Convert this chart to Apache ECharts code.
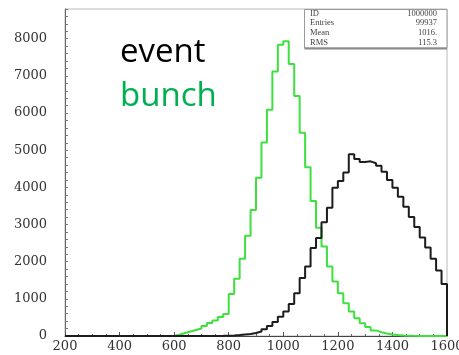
<!DOCTYPE html>
<html>
<head>
<meta charset="utf-8">
<script src="https://cdn.jsdelivr.net/npm/echarts@6/dist/echarts.min.js"></script>
<style>
  html, body { margin: 0; padding: 0; background: #fff; }
  #chart { width: 459px; height: 355px; }
</style>
</head>
<body>
<div id="chart"></div>
<script>
// Histogram binning: 70 bins of width 20 between 200 and 1600
const BIN_MIN = 200;
const BIN_WIDTH = 20;
const BIN_COUNT = 70;

// "event" counts per bin (black)
const eventCounts = [
  0, 0, 0, 0, 0, 0, 0, 0, 0, 0,
  0, 0, 0, 0, 0, 0, 0, 0, 0, 0,
  0, 0, 0, 0, 0, 0, 0, 2, 4, 8,
  15, 25, 40, 55, 80, 120, 180, 270, 380, 520,
  660, 860, 1150, 1560, 1870, 2370, 2640, 3060, 3450, 3990,
  4170, 4400, 4890, 4760, 4680, 4700, 4650, 4580, 4420, 4200,
  3990, 3750, 3480, 3200, 2930, 2650, 2380, 2080, 1760, 1400
];

// "bunch" counts per bin (green)
const bunchCounts = [
  0, 0, 0, 0, 0, 0, 0, 0, 0, 0,
  0, 0, 0, 0, 0, 0, 0, 0, 0, 5,
  35, 80, 120, 160, 200, 270, 350, 420, 510, 590,
  1130, 1540, 2080, 2700, 3390, 4260, 5210, 6090, 7120, 7840,
  7930, 7320, 6460, 5470, 4540, 3630, 2910, 2410, 1870, 1470,
  1150, 880, 660, 480, 340, 240, 150, 100, 65, 40,
  25, 15, 10, 5, 3, 0, 0, 0, 0, 0
];

// Statistics box rows
const statLabels = ['ID', 'Entries', 'Mean', 'RMS'];
const statValues = ['1000000', '99937', '1016.', '115.3'];

// Legend words
const seriesNames = ['event', 'bunch'];

// Turn bin counts into step-line points (left edge of each bin, closed at both ends)
function histPoints(counts) {
  const pts = [[BIN_MIN, 0]];
  for (let i = 0; i < BIN_COUNT; i++) {
    pts.push([BIN_MIN + i * BIN_WIDTH, counts[i]]);
  }
  const xEnd = BIN_MIN + BIN_COUNT * BIN_WIDTH;
  pts.push([xEnd, counts[BIN_COUNT - 1]]);
  pts.push([xEnd, 0]);
  return pts;
}

const serif = 'DejaVu Serif';
const chart = echarts.init(document.getElementById('chart'), null, { renderer: 'canvas' });

const statGraphics = [];
statGraphics.push({
  type: 'rect', z: 10,
  shape: { x: 304.5, y: 9.5, width: 142.5, height: 38.5 },
  style: { fill: '#fff', stroke: '#9a9a9a', lineWidth: 1 }
});
statGraphics.push({
  type: 'line', z: 11,
  shape: { x1: 304.5, y1: 48.5, x2: 447, y2: 48.5 },
  style: { stroke: '#8a8a8a', lineWidth: 2 }
});
statLabels.forEach((lab, i) => {
  const cy = 13.5 + i * 9.7;
  statGraphics.push({
    type: 'text', z: 12, x: 310, y: cy,
    style: { text: lab, fill: '#444', font: '8.5px "Liberation Serif"', verticalAlign: 'middle', align: 'left' }
  });
  statGraphics.push({
    type: 'text', z: 12, x: 437, y: cy,
    style: { text: statValues[i], fill: '#444', font: '8.5px "Liberation Serif"', verticalAlign: 'middle', align: 'right' }
  });
});

const option = {
  animation: false,
  backgroundColor: '#fff',
  grid: {
    left: 65, right: 12, top: 9, bottom: 19,
    outerBoundsMode: 'none', containLabel: false,
    show: true, borderColor: '#b8b8b8', borderWidth: 1, backgroundColor: 'transparent'
  },
  xAxis: {
    type: 'value', min: 200, max: 1600, interval: 200,
    axisLine: { show: true, onZero: false, lineStyle: { color: '#444', width: 1 } },
    axisTick: { show: true, inside: true, length: 4, lineStyle: { color: '#555' } },
    minorTick: { show: true, splitNumber: 4, length: 2, lineStyle: { color: '#666' } },
    axisLabel: { fontFamily: serif, fontSize: 13, color: '#333', margin: 4, formatter: v => String(v) },
    splitLine: { show: false }, minorSplitLine: { show: false }
  },
  yAxis: {
    type: 'value', min: 0, max: 8800, interval: 200,
    axisLine: { show: true, onZero: false, lineStyle: { color: '#666', width: 1 } },
    axisTick: { show: true, inside: true, length: 3, lineStyle: { color: '#777' } },
    axisLabel: {
      fontFamily: serif, fontSize: 13, color: '#333', margin: 18,
      formatter: v => (v % 1000 === 0 && v <= 8000) ? String(v) : ''
    },
    splitLine: { show: false }
  },
  series: [
    {
      name: seriesNames[1], type: 'line', step: 'end', symbol: 'none',
      data: histPoints(bunchCounts),
      lineStyle: { color: '#3ee03e', width: 2 }, z: 3
    },
    {
      name: seriesNames[0], type: 'line', step: 'end', symbol: 'none',
      data: histPoints(eventCounts),
      lineStyle: { color: '#1c1c1c', width: 2 }, z: 4
    }
  ],
  graphic: [
    {
      type: 'text', z: 20, x: 120, y: 53,
      style: { text: seriesNames[0], fill: '#000', font: '33px "Open Sans"', verticalAlign: 'middle', align: 'left' }
    },
    {
      type: 'text', z: 20, x: 120, y: 96.5,
      style: { text: seriesNames[1], fill: '#00b050', font: '33px "Open Sans"', verticalAlign: 'middle', align: 'left' }
    }
  ].concat(statGraphics)
};

chart.setOption(option);
</script>
</body>
</html>
